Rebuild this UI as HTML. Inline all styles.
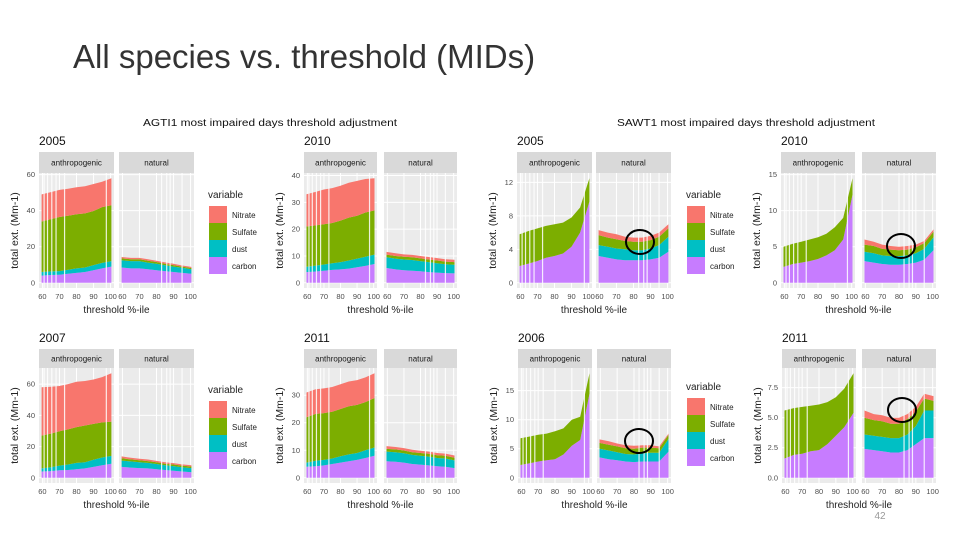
<!DOCTYPE html>
<html><head><meta charset="utf-8"><style>
html,body{margin:0;padding:0;background:#fff;}
svg{display:block;font-family:"Liberation Sans",sans-serif;}
</style></head><body>
<svg id="s" width="960" height="540" viewBox="0 0 960 540" xmlns="http://www.w3.org/2000/svg">
<text x="73" y="68" font-size="33" fill="#333">All species vs. threshold (MIDs)</text>
<text x="270" y="126" font-size="10" fill="#111" text-anchor="middle" textLength="254" lengthAdjust="spacingAndGlyphs">AGTI1 most impaired days threshold adjustment</text>
<text x="746" y="126" font-size="10" fill="#111" text-anchor="middle" textLength="258" lengthAdjust="spacingAndGlyphs">SAWT1 most impaired days threshold adjustment</text>
<text x="880" y="519" font-size="10" fill="#999" text-anchor="middle">42</text>
<g id="charts"></g>
</svg>
<script>
// shared categories
const xVals = [60,65,70,75,80,85,90,95,100];
const species = ["carbon","dust","Sulfate","Nitrate"];
const legendLabels = ["Nitrate","Sulfate","dust","carbon"];
const facets = ["anthropogenic","natural"];
const xTicks = [60,70,80,90,100];
const gapsAnthro = [61,63,65.5,68,73,97.5];
const gapsNatural = [83,86,88,95];

// AGTI1 2005
const a05AnthroCarbon = [4,4.3,4.5,5,5.5,6,7,8,9];
const a05AnthroDust = [2,2,2,2.2,2.5,2.5,2.8,3,3];
const a05AnthroSulfate = [28,29,30,30,30,30,30,31,31];
const a05AnthroNitrate = [15,15,15,15,15,15,15,14,15];
const a05NatCarbon = [8.5,8,8,7.5,7,6.5,6,5.5,5];
const a05NatDust = [4,4,4,3.7,3.5,3.2,3,2.8,2.5];
const a05NatSulfate = [1,1,1,1,1,0.9,0.8,0.7,0.7];
const a05NatNitrate = [0.8,0.8,0.8,0.8,0.7,0.7,0.7,0.6,0.6];
const a05Ticks = [0,20,40,60];
// AGTI1 2010
const a10AnthroCarbon = [4,4.2,4.5,4.8,5,5.3,5.8,6.3,7];
const a10AnthroDust = [2,2.2,2.3,2.5,2.7,3,3.2,3.4,3.5];
const a10AnthroSulfate = [15,15,15,15,15.5,16,16,16.5,16.5];
const a10AnthroNitrate = [12,12.5,13,13,13,13,13,12.5,12];
const a10NatCarbon = [5.5,5,4.7,4.5,4.3,4,3.8,3.6,3.5];
const a10NatDust = [4,4,4,4,3.8,3.7,3.5,3.3,3.2];
const a10NatSulfate = [1,1,1,1,1,1,1,1,1];
const a10NatNitrate = [1,1,0.9,0.9,0.9,0.9,0.9,0.9,0.9];
const a10Ticks = [0,10,20,30,40];
// AGTI1 2007
const a07AnthroCarbon = [4,4.3,4.8,5,5.5,6,7,8,9];
const a07AnthroDust = [2,2.5,3,3.5,4,4,4.5,5,5];
const a07AnthroSulfate = [21,21.5,22,22.5,23,23.5,23,22.5,22];
const a07AnthroNitrate = [31,30,29,29,29,28.5,28.5,29,31];
const a07NatCarbon = [7,6.5,6.2,6,5.5,5,4.5,4,3.5];
const a07NatDust = [4,4,3.8,3.5,3.3,3,3,2.8,2.7];
const a07NatSulfate = [1.5,1.3,1.2,1.2,1.1,1,1,1,1];
const a07NatNitrate = [1.2,1,1,1,0.9,0.9,0.9,0.8,0.8];
const a07Ticks = [0,20,40,60];
// AGTI1 2011
const a11AnthroCarbon = [4,4.2,4.5,5,5.5,6,6.5,7.2,8];
const a11AnthroDust = [1.5,2,2,2,2.3,2.5,2.5,2.8,3];
const a11AnthroSulfate = [16.5,17,17,17,17.2,17.5,17.5,17.5,18];
const a11AnthroNitrate = [9,9,9,9,9,9,9,9,9];
const a11NatCarbon = [6,5.8,5.5,5,4.8,4.5,4.2,4,3.5];
const a11NatDust = [3.5,3.5,3.4,3.3,3.2,3.2,3,3,2.8];
const a11NatSulfate = [1,1,1,1,1,1,1,1,1];
const a11NatNitrate = [1,0.9,0.9,0.9,0.8,0.8,0.8,0.8,0.8];
const a11Ticks = [0,10,20,30];
// SAWT1 2005
const s05AnthroCarbon = [2,2.3,2.6,3,3.2,3.5,4.3,6,9.7];
const s05AnthroDust = [0,0,0,0,0,0,0,0,0];
const s05AnthroSulfate = [3.8,3.9,3.9,3.8,3.8,3.7,3.5,3,2.8];
const s05AnthroNitrate = [0,0,0,0,0,0,0,0,0];
const s05NatCarbon = [3.2,3,2.8,2.7,2.7,2.7,2.8,3,3.7];
const s05NatDust = [1.3,1.3,1.3,1.3,1.2,1.2,1.3,1.5,1.8];
const s05NatSulfate = [1.2,1.1,1.1,1,1,1,1,1,1];
const s05NatNitrate = [0.6,0.6,0.6,0.5,0.5,0.5,0.5,0.5,0.5];
const s05Ticks = [0,4,8,12];
// SAWT1 2010
const s10AnthroCarbon = [2.2,2.6,2.8,3,3.3,3.8,4.5,6,12.2];
const s10AnthroDust = [0,0,0,0,0,0,0,0,0];
const s10AnthroSulfate = [2.8,2.8,2.9,3,3,3,3.2,3,2.3];
const s10AnthroNitrate = [0,0,0,0,0,0,0,0,0];
const s10NatCarbon = [3,2.8,2.6,2.5,2.5,2.6,2.8,3.2,4.5];
const s10NatDust = [1.3,1.3,1.2,1.2,1.2,1.2,1.3,1.5,1.8];
const s10NatSulfate = [1,1,0.9,0.9,0.8,0.8,0.8,0.8,0.8];
const s10NatNitrate = [0.7,0.6,0.6,0.5,0.5,0.5,0.4,0.3,0.3];
const s10Ticks = [0,5,10,15];
// SAWT1 2006
const s06AnthroCarbon = [2.2,2.5,2.8,3,3.2,4,5.5,6.5,14.5];
const s06AnthroDust = [0,0,0,0,0,0,0,0,0];
const s06AnthroSulfate = [4.6,4.6,4.6,4.6,4.8,4.5,4.5,4,3.5];
const s06AnthroNitrate = [0,0,0,0,0,0,0,0,0];
const s06NatCarbon = [3.5,3.2,3,2.8,2.7,2.8,2.8,2.8,4.5];
const s06NatDust = [1.5,1.5,1.4,1.3,1.3,1.4,1.5,1.5,2.2];
const s06NatSulfate = [1,1,1,1,1,1,0.9,0.8,0.7];
const s06NatNitrate = [0.6,0.6,0.5,0.5,0.5,0.4,0.4,0.3,0.2];
const s06Ticks = [0,5,10,15];
// SAWT1 2011
const s11AnthroCarbon = [1.6,1.9,2,2.2,2.3,2.8,3.5,4.2,5.4];
const s11AnthroDust = [0,0,0,0,0,0,0,0,0];
const s11AnthroSulfate = [4,3.9,3.9,3.8,3.8,3.5,3.2,3.2,3.3];
const s11AnthroNitrate = [0,0,0,0,0,0,0,0,0];
const s11NatCarbon = [2.4,2.3,2.2,2.1,2.1,2.3,2.8,3.3,3.3];
const s11NatDust = [1.2,1.2,1.2,1.2,1.2,1.3,1.5,2.3,2.3];
const s11NatSulfate = [1.4,1.3,1.3,1.2,1.2,1.3,1.2,1,0.8];
const s11NatNitrate = [0.6,0.5,0.5,0.5,0.5,0.4,0.4,0.4,0.4];
const s11Ticks = [0,2.5,5,7.5];

const COLORS = {carbon:"#C77CFF",dust:"#00BFC4",Sulfate:"#7CAE00",Nitrate:"#F8766D"};
const NS = "http://www.w3.org/2000/svg";
const root = document.getElementById("charts");
function mk(tag, attrs, parent){
  const e = document.createElementNS(NS, tag);
  for (const k in attrs) e.setAttribute(k, attrs[k]);
  (parent||root).appendChild(e);
  return e;
}

function panel(p){
  const g = mk("g", {});
  
  
  const idx = xVals.map((v,i)=>i);
  const dataMax = Math.max(...idx.map(i=>p.anthro.reduce((s,a)=>s+a[i],0)), ...idx.map(i=>p.nat.reduce((s,a)=>s+a[i],0)));
  const lo = -0.05*dataMax, hi = 1.05*dataMax;
  const yS = v => p.plotBot - (v-lo)/(hi-lo)*(p.plotBot-p.plotTop);
  const yt = mk("text",{x:p.ax,y:p.stripTop-7,"font-size":12,fill:"#111"},g);
  yt.textContent = p.year;
  
  
  [[p.ax,p.anthro,gapsAnthro,facets[0]],[p.nx,p.nat,gapsNatural,facets[1]]].forEach(([x0,ser,gaps,fname])=>{
    const w = p.w;
    const xS = v => x0 + (v-58)/(102-58)*w;
    const fg = mk("g",{},g);
    
    
    const st = mk("rect",{x:x0,y:p.stripTop,width:w,height:p.plotTop-p.stripTop,fill:"#D9D9D9"},fg);
    
    
    const stt = mk("text",{x:x0+w/2,y:(p.stripTop+p.plotTop)/2+3,"font-size":8,fill:"#1a1a1a","text-anchor":"middle"},fg);
    stt.textContent = fname;
    
    
    const bg = mk("rect",{x:x0,y:p.plotTop,width:w,height:p.plotBot-p.plotTop,fill:"#EBEBEB"},fg);
    
    
    p.ticks.forEach(t=>{ const l=mk("line",{x1:x0,x2:x0+w,y1:yS(t),y2:yS(t),stroke:"#fff","stroke-width":1},fg);
        });
    xTicks.forEach(t=>{ const l=mk("line",{x1:xS(t),x2:xS(t),y1:p.plotTop,y2:p.plotBot,stroke:"#fff","stroke-width":1},fg);
        });
    let base = xVals.map(()=>0);
    ser.forEach((arr,si)=>{
      const top = base.map((b,i)=>b+arr[i]);
      const xs = xVals.map((v,i)=> i===0 ? 59.5 : (i===xVals.length-1 ? 100.5 : v));
      let d = "M"+xs.map((v,i)=>xS(v).toFixed(1)+","+yS(top[i]).toFixed(1)).join(" L");
      for (let i=xs.length-1;i>=0;i--) d += " L"+xS(xs[i]).toFixed(1)+","+yS(base[i]).toFixed(1);
      d += "Z";
      const a = mk("path",{d:d,fill:COLORS[species[si]]},fg);
      
      
      base = top;
    });
    gaps.forEach(gx=>{ const l=mk("line",{x1:xS(gx),x2:xS(gx),y1:p.plotTop,y2:p.plotBot,stroke:"#fff","stroke-width":1.2,opacity:0.85},fg);
        });
    xTicks.forEach(t=>{
      const tl = mk("text",{x:xS(t),y:p.plotBot+11,"font-size":7.5,fill:"#4d4d4d","text-anchor":"middle"},fg);
      tl.textContent = t;
      
      
    });
  });
  p.ticks.forEach(t=>{
    const tl = mk("text",{x:p.ax-4,y:yS(t)+2.5,"font-size":7.5,fill:"#4d4d4d","text-anchor":"end"},g);
    tl.textContent = p.tickFmt ? t.toFixed(1) : t;
    
    
  });
  const xt = mk("text",{x:(p.ax+p.nx+p.w)/2,y:p.plotBot+25,"font-size":10,fill:"#222","text-anchor":"middle"},g);
  xt.textContent = "threshold %-ile";
  
  
  const cy = (p.plotTop+p.plotBot)/2, cx = p.ax-21;
  const yt2 = mk("text",{x:cx,y:cy,"font-size":10.5,fill:"#222","text-anchor":"middle",transform:`rotate(-90 ${cx} ${cy})`},g);
  yt2.textContent = "total ext. (Mm-1)";
  
  
  if (p.circle){
    const c = mk("ellipse",{cx:p.circle[0],cy:p.circle[1],rx:14,ry:12,fill:"none",stroke:"#000","stroke-width":2},g);
    
    
  }
}

function legend(x,y){
  const g = mk("g",{});
  
  
  const t = mk("text",{x:x,y:y,"font-size":10,fill:"#222"},g);
  t.textContent = "variable";
  
  
  legendLabels.forEach((lab,i)=>{
    const r = mk("rect",{x:x+1,y:y+8+i*17,width:18,height:17,fill:COLORS[lab]},g);
    
    
    const lt = mk("text",{x:x+24,y:y+20+i*17,"font-size":8,fill:"#222"},g);
    lt.textContent = lab;
    
    
  });
}

const top1 = {stripTop:152, plotTop:173, plotBot:288};
const bot1 = {stripTop:349, plotTop:368, plotBot:483};
panel(Object.assign({id:"agti-2005",year:"2005",ax:39,nx:119,w:75,ticks:a05Ticks,
  anthro:[a05AnthroCarbon,a05AnthroDust,a05AnthroSulfate,a05AnthroNitrate],
  nat:[a05NatCarbon,a05NatDust,a05NatSulfate,a05NatNitrate]},top1));
panel(Object.assign({id:"agti-2010",year:"2010",ax:304,nx:384,w:73,ticks:a10Ticks,
  anthro:[a10AnthroCarbon,a10AnthroDust,a10AnthroSulfate,a10AnthroNitrate],
  nat:[a10NatCarbon,a10NatDust,a10NatSulfate,a10NatNitrate]},top1));
panel(Object.assign({id:"agti-2007",year:"2007",ax:39,nx:119,w:75,ticks:a07Ticks,
  anthro:[a07AnthroCarbon,a07AnthroDust,a07AnthroSulfate,a07AnthroNitrate],
  nat:[a07NatCarbon,a07NatDust,a07NatSulfate,a07NatNitrate]},bot1));
panel(Object.assign({id:"agti-2011",year:"2011",ax:304,nx:384,w:73,ticks:a11Ticks,
  anthro:[a11AnthroCarbon,a11AnthroDust,a11AnthroSulfate,a11AnthroNitrate],
  nat:[a11NatCarbon,a11NatDust,a11NatSulfate,a11NatNitrate]},bot1));
panel(Object.assign({id:"sawt-2005",year:"2005",ax:517,nx:596,w:75,ticks:s05Ticks,circle:[640,242],
  anthro:[s05AnthroCarbon,s05AnthroDust,s05AnthroSulfate,s05AnthroNitrate],
  nat:[s05NatCarbon,s05NatDust,s05NatSulfate,s05NatNitrate]},top1));
panel(Object.assign({id:"sawt-2010",year:"2010",ax:781,nx:862,w:74,ticks:s10Ticks,circle:[901,246],
  anthro:[s10AnthroCarbon,s10AnthroDust,s10AnthroSulfate,s10AnthroNitrate],
  nat:[s10NatCarbon,s10NatDust,s10NatSulfate,s10NatNitrate]},top1));
panel(Object.assign({id:"sawt-2006",year:"2006",ax:518,nx:597,w:74,ticks:s06Ticks,circle:[639,441],
  anthro:[s06AnthroCarbon,s06AnthroDust,s06AnthroSulfate,s06AnthroNitrate],
  nat:[s06NatCarbon,s06NatDust,s06NatSulfate,s06NatNitrate]},bot1));
panel(Object.assign({id:"sawt-2011",year:"2011",ax:782,nx:862,w:74,ticks:s11Ticks,tickFmt:true,circle:[902,410],
  anthro:[s11AnthroCarbon,s11AnthroDust,s11AnthroSulfate,s11AnthroNitrate],
  nat:[s11NatCarbon,s11NatDust,s11NatSulfate,s11NatNitrate]},bot1));
legend(208,198);
legend(208,393);
legend(686,198);
legend(686,390);
</script>
</body></html>
